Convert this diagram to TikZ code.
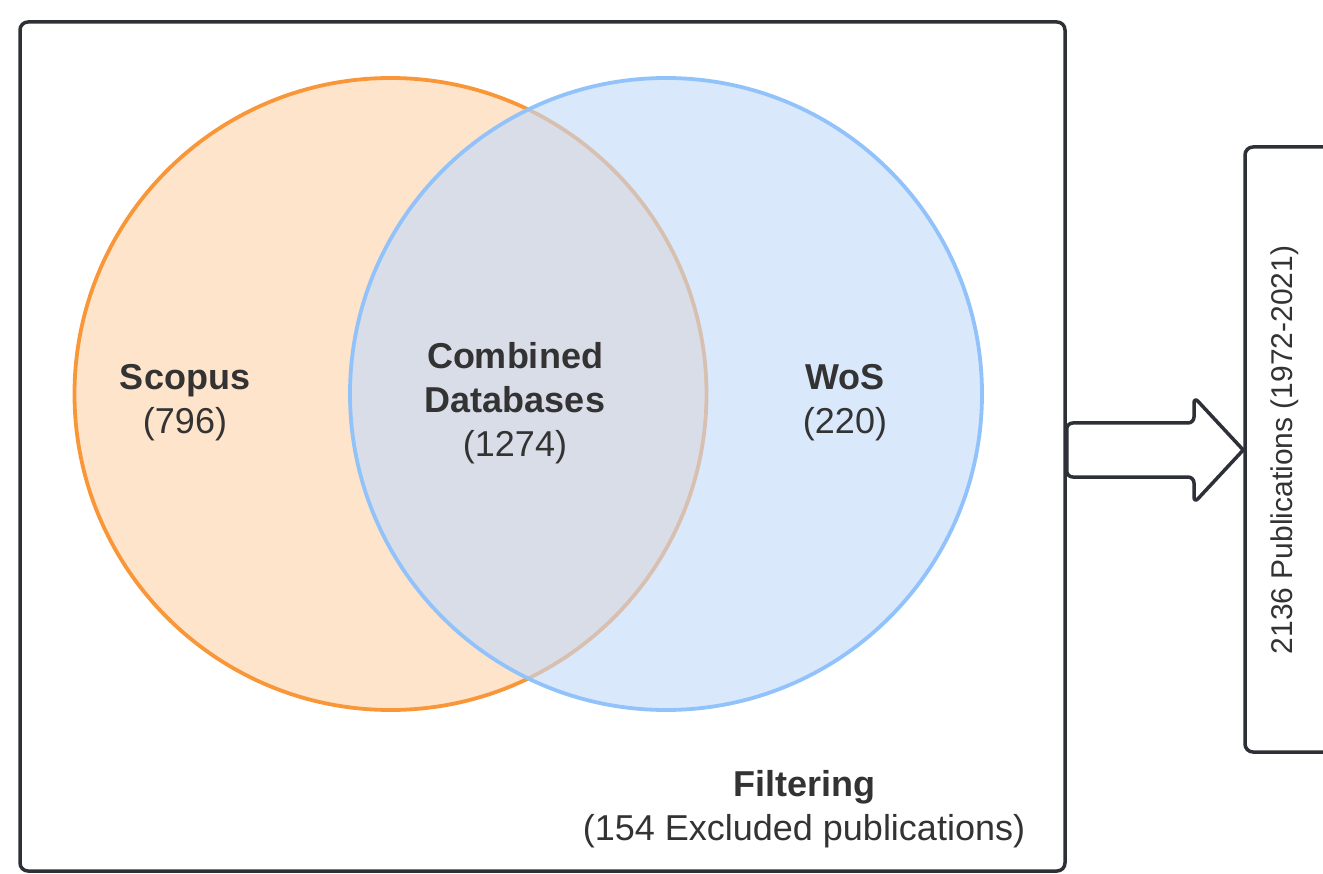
\documentclass[tikz,border=0pt]{standalone}
\usepackage{fontspec}
\setmainfont{Liberation Sans}
\definecolor{orangeline}{RGB}{249,150,55}
\definecolor{orangefill}{RGB}{255,228,204}
\definecolor{blueline}{RGB}{145,195,250}
\definecolor{bluefill}{RGB}{195,218,250}
\definecolor{darkline}{RGB}{45,48,54}
\definecolor{txt}{RGB}{51,51,51}
\tikzset{
  frame/.style={draw=darkline, line width=3.5pt, rounded corners=8pt},
  setcircle/.style={circle, line width=3.8pt, minimum size=632pt, inner sep=0pt},
  lbl/.style={text=txt, align=center, inner sep=0pt, font=\fontsize{36}{44}\selectfont},
}
\begin{document}
\begin{tikzpicture}[x=1pt,y=-1pt]
\useasboundingbox (0,0) rectangle (1323,874);
% main frame
\node[frame, minimum width=1045pt, minimum height=849pt, inner sep=0pt] (main) at (542.5,446.5) {};
% circles
\node[setcircle, draw=orangeline, fill=orangefill] (scopus) at (390.5,394) {};
\node[setcircle, draw=blueline, fill=bluefill, fill opacity=0.62] (wos) at (666,394) {};
% labels
\node[lbl] (lscopus) at (185,403) {\textbf{Scopus}\\(796)};
\node[lbl] (lcomb) at (515,403) {\textbf{Combined}\\\textbf{Databases}\\(1274)};
\node[lbl] (lwos) at (845,403) {\textbf{WoS}\\(220)};
\node[lbl] (lfilt) at (804,809) {\textbf{Filtering}\\(154 Excluded publications)};
% result box (clipped at right edge)
\begin{scope}
\clip (0,0) rectangle (1323,874);
\node[frame, minimum width=100pt, minimum height=605pt, inner sep=0pt] (pubs) at (1295,449.5) {};
\end{scope}
\node[rotate=90, text=txt, inner sep=0pt, font=\fontsize{30}{36}\selectfont] (lpubs) at (1285,450) {2136 Publications (1972-2021)};
% block arrow from main frame to result box
\coordinate (a0) at (main.east |- 0,423);
\coordinate (tip) at (pubs.west |- 0,450);
\draw[darkline, line width=3.5pt, fill=white, rounded corners=6pt, line join=round]
  (a0) -- (1194,423) -- (1194,397) [sharp corners]-- (tip) [rounded corners=6pt]-- (1194,503) -- (1194,477) -- (main.east |- 0,477) -- cycle;
\end{tikzpicture}
\end{document}
